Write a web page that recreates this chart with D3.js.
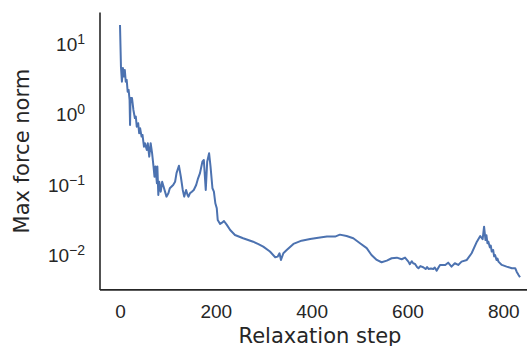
<!DOCTYPE html>
<html><head><meta charset="utf-8">
<script src="https://cdn.jsdelivr.net/npm/d3@7"></script>
<style>body{margin:0;background:#fff;} svg{display:block;}</style>
</head><body>
<script>
const steps = [0,2,4,6,8,10,12,14,16,18,20,21,22,25,28,31,33,35,38,40,42,45,47,50,52,56,58,61,64,67,70,72,74,77,78,80,82,85,88,90,94,97,101,104,111,115,118,123,127,131,134,138,141,143,146,150,154,159,163,167,172,175,179,182,186,189,193,196,199,202,204,209,213,217,223,230,240,257,278,289,299,313,324,329,333,336,341,348,362,379,397,414,432,449,459,473,487,501,515,525,536,546,557,567,578,588,595,602,605,609,612,616,620,623,627,633,638,641,644,649,654,657,661,668,679,685,692,699,706,713,724,734,745,752,757,760,763,765,767,769,772,774,776,779,781,783,786,788,790,797,807,818,825,828,832,835];
const maxForce = [17.1,4.38,2.68,4.20,3.16,3.93,2.68,2.83,1.93,2.04,1.47,0.649,1.57,1.57,1.06,0.816,0.851,0.614,0.686,0.495,0.582,0.443,0.468,0.319,0.357,0.286,0.357,0.230,0.357,0.257,0.166,0.119,0.166,0.0962,0.166,0.0656,0.101,0.0731,0.101,0.091,0.0731,0.0621,0.0693,0.0817,0.091,0.101,0.134,0.171,0.119,0.0773,0.0621,0.0773,0.0656,0.0621,0.0693,0.0731,0.0773,0.091,0.113,0.134,0.195,0.206,0.0773,0.195,0.257,0.166,0.0817,0.0731,0.050,0.0425,0.0289,0.0254,0.0265,0.0280,0.0246,0.0208,0.0177,0.0159,0.0142,0.0131,0.0121,0.0103,0.00853,0.00871,0.00973,0.00782,0.00973,0.0108,0.0132,0.0147,0.0155,0.0162,0.0168,0.0168,0.0179,0.0171,0.0159,0.0135,0.0115,0.0092,0.00782,0.00725,0.00764,0.00826,0.00843,0.0080,0.00843,0.0074,0.0068,0.0075,0.0070,0.00686,0.0062,0.00596,0.0064,0.00615,0.0058,0.0062,0.00582,0.0059,0.00582,0.0061,0.00551,0.00664,0.00664,0.00715,0.00628,0.00701,0.00664,0.0074,0.00782,0.00973,0.0142,0.0171,0.0154,0.0232,0.0150,0.0175,0.0135,0.0142,0.0118,0.0125,0.0103,0.0108,0.0088,0.0092,0.0078,0.0082,0.0074,0.00664,0.00628,0.00596,0.00596,0.00532,0.00478,0.00443];
const xTicks = [0,200,400,600,800];
const yTickExps = [1,0,-1,-2];
const xLabel = "Relaxation step";
const yLabel = "Max force norm";

(function(){
const W = 527, H = 346;
const svg = d3.select("body").append("svg").attr("width", W).attr("height", H)
  .style("font-family", "DejaVu Sans, sans-serif");
const pl = 100, pr = 540, pt = 12.4, pb = 289.9;
const N = 835;
const x = d3.scaleLinear().domain([-0.05*N, 1.05*N]).range([pl, pr]);
const lmin = Math.log10(d3.min(maxForce)), lmax = Math.log10(d3.max(maxForce));
const pad = (lmax - lmin) * 0.05;
const y = d3.scaleLog().domain([Math.pow(10, lmin - pad), Math.pow(10, lmax + pad)]).range([pb, pt]);
const txt = "#262626";

const data = steps.map((s, i) => [s, maxForce[i]]);
const line = d3.line().x(d => x(d[0])).y(d => y(d[1]));
svg.append("path").datum(data).attr("d", line)
  .attr("fill", "none").attr("stroke", "#4c72b0").attr("stroke-width", 2)
  .attr("stroke-linejoin", "round");

// X axis
const xAxis = svg.append("g").attr("transform", `translate(0,${pb})`)
  .call(d3.axisBottom(x).tickValues(xTicks).tickSize(0).tickPadding(0));
xAxis.select(".domain").attr("stroke", txt).attr("stroke-width", 1.6)
  .attr("d", `M${pl},0H${W+5}`);
xAxis.selectAll("text").attr("y", 28).attr("dy", null).attr("fill", txt)
  .style("font-size", "19px");

// Y axis
const yAxis = svg.append("g").attr("transform", `translate(${pl},0)`)
  .call(d3.axisLeft(y).tickValues(yTickExps.map(e => Math.pow(10, e))).tickSize(0).tickFormat(""));
yAxis.select(".domain").attr("stroke", txt).attr("stroke-width", 1.6)
  .attr("d", `M0,${pt}V${pb}`);
yAxis.selectAll(".tick").each(function(d) {
  const e = Math.round(Math.log10(d));
  const t = d3.select(this).append("text").attr("x", -15).attr("y", 9)
    .attr("text-anchor", "end").attr("fill", txt).style("font-size", "19px");
  t.append("tspan").text("10");
  t.append("tspan").attr("dy", -7).style("font-size", "14px")
    .text(e < 0 ? "\u2212" + Math.abs(e) : String(e));
});

svg.append("text").attr("x", (pl + pr) / 2).attr("y", 343)
  .attr("text-anchor", "middle").attr("fill", txt).style("font-size", "21px").text(xLabel);
svg.append("text").attr("transform", `translate(29,${(pt + pb) / 2}) rotate(-90)`)
  .attr("text-anchor", "middle").attr("fill", txt).style("font-size", "21px").text(yLabel);
})();
</script>
</body></html>
